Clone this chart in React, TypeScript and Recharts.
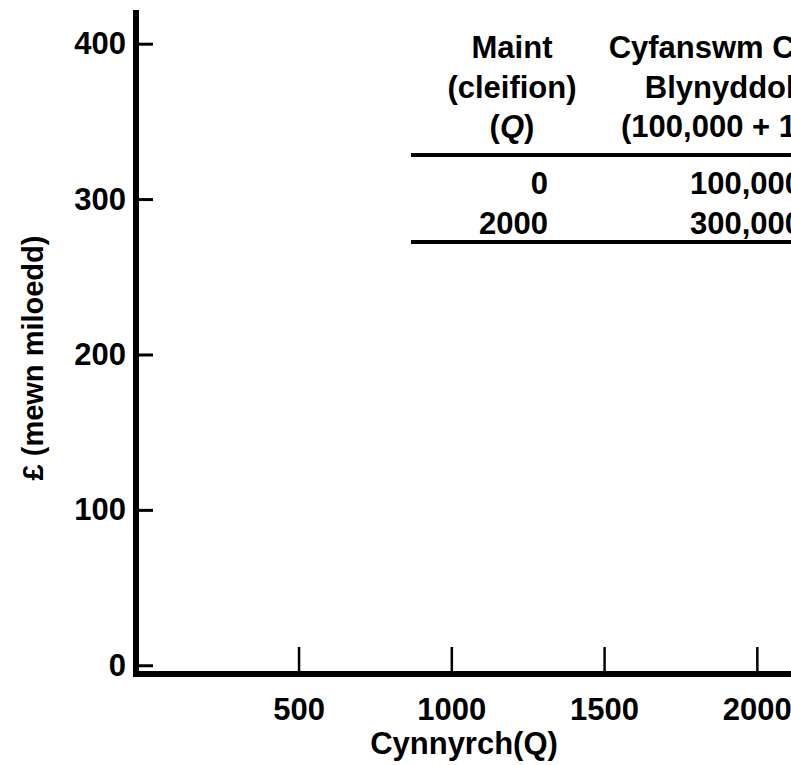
import { ComposedChart, XAxis, YAxis, Customized } from "recharts";

const FONT = '"Liberation Sans", Arial, Helvetica, sans-serif';

// axis ticks (Q along x, £ thousands up y)
const xTicks = [500, 1000, 1500, 2000];
const yTicks = [0, 100, 200, 300, 400];

// the little cost table in the corner
const tableQ = [0, 2000];
const tableCost = [100000, 300000];
const qHeader = ["Maint", "(cleifion)"];
const costHeader = ["Cyfanswm Costau", "Blynyddol (£)"];

const XTick = (props: any) => {
  const { x, y, payload } = props;
  return (
    <g>
      <line x1={x} y1={y} x2={x} y2={y - 27} stroke="#000" strokeWidth={2.5} />
      <text x={x} y={y + 46} textAnchor="middle" fontFamily={FONT} fontWeight="bold" fontSize={31} fill="#000">
        {payload.value}
      </text>
    </g>
  );
};

const YTick = (props: any) => {
  const { x, y, payload } = props;
  return (
    <g>
      <line x1={x} y1={y} x2={x + 17} y2={y} stroke="#000" strokeWidth={3} />
      <text x={x - 10} y={y + 10} textAnchor="end" fontFamily={FONT} fontWeight="bold" fontSize={31} fill="#000">
        {payload.value}
      </text>
    </g>
  );
};

function Overlay() {
  const fmt = (v: number) => v.toLocaleString("en-GB");
  return (
    <g fontFamily={FONT} fontWeight="bold" fill="#000">
      {/* axis titles */}
      <text x={464} y={754} textAnchor="middle" fontSize={31}>
        Cynnyrch(Q)
      </text>
      <text
        transform="translate(43, 358) rotate(-90)"
        textAnchor="middle"
        fontSize={29}
      >
        £ (mewn miloedd)
      </text>

      {/* table header */}
      {qHeader.map((t, i) => (
        <text key={t} x={512} y={58 + i * 39.5} textAnchor="middle" fontSize={31}>
          {t}
        </text>
      ))}
      <text x={512} y={137} textAnchor="middle" fontSize={31}>
        (<tspan fontStyle="italic">Q</tspan>)
      </text>
      {costHeader.map((t, i) => (
        <text key={t} x={743} y={58 + i * 39.5} textAnchor="middle" fontSize={31}>
          {t}
        </text>
      ))}
      <text x={743} y={137} textAnchor="middle" fontSize={31}>
        (100,000 + 100<tspan fontStyle="italic">Q</tspan>)
      </text>

      <line x1={411} y1={155} x2={900} y2={155} stroke="#000" strokeWidth={4} />
      {tableQ.map((q, i) => (
        <g key={q}>
          <text x={548} y={194 + i * 39.5} textAnchor="end" fontSize={31}>
            {q}
          </text>
          <text x={802} y={194 + i * 39.5} textAnchor="end" fontSize={31}>
            {fmt(tableCost[i])}
          </text>
        </g>
      ))}
      <line x1={411} y1={242} x2={900} y2={242} stroke="#000" strokeWidth={4} />
    </g>
  );
}

export default function App() {
  return (
    <div style={{ position: "fixed", left: 0, top: 0, width: 791, height: 765, overflow: "hidden", background: "#fff" }}>
      <ComposedChart width={900} height={765} margin={{ top: 10, right: 51, bottom: 0, left: 0 }}>
        <XAxis
          type="number"
          dataKey="q"
          domain={[-33.7, 2300]}
          ticks={xTicks}
          height={91}
          tickSize={0}
          tickMargin={0}
          tickLine={false}
          tick={<XTick />}
          axisLine={{ stroke: "#000", strokeWidth: 6, strokeLinecap: "square" }}
          allowDataOverflow
          interval={0}
        />
        <YAxis
          type="number"
          domain={[-5.3, 422]}
          ticks={yTicks}
          width={136}
          tickSize={0}
          tickMargin={0}
          tickLine={false}
          tick={<YTick />}
          axisLine={{ stroke: "#000", strokeWidth: 6 }}
          allowDataOverflow
          interval={0}
        />
        <Customized component={Overlay} />
      </ComposedChart>
    </div>
  );
}
